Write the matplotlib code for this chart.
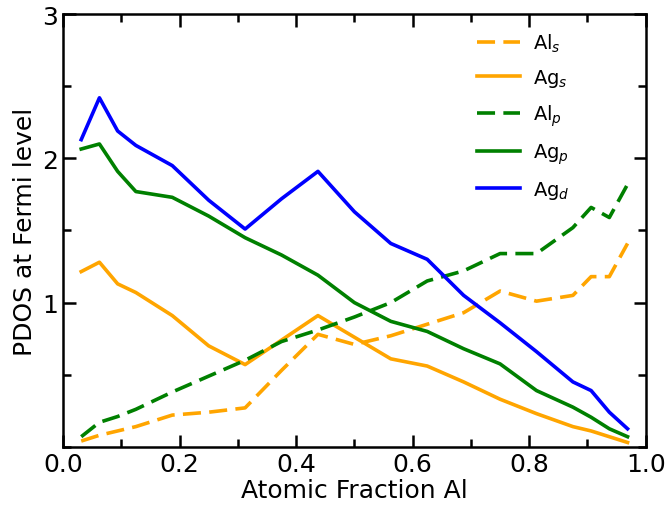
import matplotlib
matplotlib.use("Agg")
import matplotlib.pyplot as plt
from matplotlib.ticker import MultipleLocator, FixedLocator

# Al atomic fraction of each composition
frac_al = [0.03125, 0.0625, 0.09375, 0.125, 0.1875, 0.25, 0.3125, 0.375, 0.4375,
           0.5, 0.5625, 0.625, 0.6875, 0.75, 0.8125, 0.875, 0.90625, 0.9375, 0.96875]

# Projected DOS at the Fermi level for each orbital channel
al_s = [0.04, 0.08, 0.11, 0.14, 0.22, 0.24, 0.27, 0.53, 0.78, 0.71, 0.77, 0.85,
        0.93, 1.08, 1.01, 1.05, 1.18, 1.18, 1.41]
ag_s = [1.215, 1.28, 1.13, 1.07, 0.91, 0.70, 0.57, 0.74, 0.91, 0.76, 0.61, 0.56,
        0.45, 0.33, 0.23, 0.14, 0.11, 0.07, 0.03]
al_p = [0.07, 0.17, 0.21, 0.26, 0.38, 0.49, 0.60, 0.73, 0.81, 0.90, 1.00, 1.15,
        1.22, 1.34, 1.34, 1.52, 1.66, 1.59, 1.82]
ag_p = [2.065, 2.10, 1.91, 1.77, 1.73, 1.60, 1.45, 1.33, 1.19, 1.00, 0.87, 0.80,
        0.68, 0.575, 0.39, 0.275, 0.205, 0.125, 0.07]
ag_d = [2.13, 2.42, 2.19, 2.09, 1.95, 1.71, 1.51, 1.72, 1.91, 1.63, 1.41, 1.30,
        1.05, 0.86, 0.66, 0.45, 0.39, 0.24, 0.125]

x_ticks = [0.0, 0.2, 0.4, 0.6, 0.8, 1.0]
y_ticks = [1, 2, 3]

fig = plt.figure(figsize=(6.66, 5.06), dpi=100)
ax = fig.add_axes([0.0946, 0.115, 0.875, 0.855])

lw = 2.6
dash = (0, (5, 2.3))
orange = "#FFA500"
green = "#008000"
blue = "#0000FF"
ax.plot(frac_al, al_s, color=orange, lw=lw, ls=dash, label=r"Al$_s$")
ax.plot(frac_al, ag_s, color=orange, lw=lw, ls="-", label=r"Ag$_s$")
ax.plot(frac_al, al_p, color=green, lw=lw, ls=dash, label=r"Al$_p$")
ax.plot(frac_al, ag_p, color=green, lw=lw, ls="-", label=r"Ag$_p$")
ax.plot(frac_al, ag_d, color=blue, lw=lw, ls="-", label=r"Ag$_d$")

ax.set_xlim(0, 1.0)
ax.set_ylim(0, 3)
ax.xaxis.set_major_locator(FixedLocator(x_ticks))
ax.xaxis.set_minor_locator(MultipleLocator(0.1))
ax.yaxis.set_major_locator(FixedLocator(y_ticks))
ax.yaxis.set_minor_locator(MultipleLocator(0.5))
ax.set_xticklabels([f"{v:.1f}" for v in x_ticks])
ax.set_yticklabels([str(v) for v in y_ticks])

ax.tick_params(which="both", direction="in", top=True, right=True, width=1.8,
               labelsize=18)
ax.tick_params(which="major", length=9)
ax.tick_params(which="minor", length=6)
for sp in ax.spines.values():
    sp.set_linewidth(1.8)

ax.set_xlabel("Atomic Fraction Al", fontsize=18, labelpad=2)
ax.set_ylabel("PDOS at Fermi level", fontsize=18, labelpad=4)

ax.legend(loc="upper right", frameon=False, fontsize=14, handlelength=2.2,
          labelspacing=0.68, handletextpad=0.7, bbox_to_anchor=(0.90, 1.0))

fig.savefig("out.png", dpi=100)
